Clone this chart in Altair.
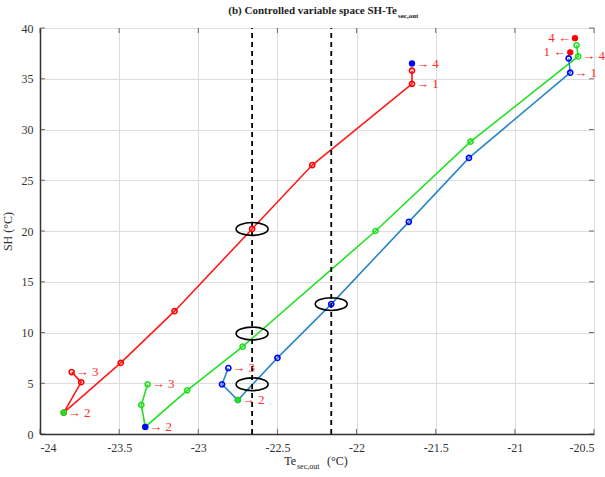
import altair as alt
import pandas as pd

# ---------------- data ----------------
series_names = ["red", "green", "blue"]

red_x = [-23.80, -23.74, -23.85, -23.49, -23.15, -22.66, -22.28, -21.65, -21.65]
red_y = [6.1, 5.1, 2.1, 7.0, 12.1, 20.2, 26.5, 34.5, 35.8]

green_x = [-23.32, -23.36, -23.335, -23.07, -22.72, -21.88, -21.28, -20.60, -20.61]
green_y = [4.9, 2.86, 0.7, 4.3, 8.6, 20.0, 28.8, 37.2, 38.3]

blue_x = [-22.81, -22.85, -22.75, -22.50, -22.16, -21.67, -21.29, -20.65, -20.66]
blue_y = [6.5, 4.9, 3.35, 7.5, 12.8, 20.9, 27.2, 35.6, 37.0]

filled_x = [-23.85, -23.335, -22.75, -21.65, -20.62, -20.65]
filled_y = [2.1, 0.7, 3.35, 36.5, 39.0, 37.6]
filled_c = ["green", "blue", "green", "blue", "red", "red"]

lab_r_x = [-23.85, -23.80, -21.65, -21.65, -23.335, -23.32, -20.60, -22.75, -22.81, -20.65]
lab_r_y = [2.1, 6.1, 34.5, 36.5, 0.7, 4.9, 37.2, 3.35, 6.5, 35.6]
lab_r_t = ["→ 2", "→ 3", "→ 1", "→ 4", "→ 2", "→ 3", "→ 4", "→ 2", "→ 3", "→ 1"]

lab_l_x = [-20.62, -20.65]
lab_l_y = [39.0, 37.6]
lab_l_t = ["4 ←", "1 ←"]

ell_x = [-22.66, -22.66, -22.66, -22.16]
ell_y = [20.2, 9.9, 4.9, 12.8]

vline_x = [-22.66, -22.16]

x_ticks = [-24, -23.5, -23, -22.5, -22, -21.5, -21, -20.5]
y_ticks = [0, 5, 10, 15, 20, 25, 30, 35, 40]

# ---------------- tables ----------------
rows = []
for name, xs_, ys_ in zip(series_names, [red_x, green_x, blue_x], [red_y, green_y, blue_y]):
    for i, (xv, yv) in enumerate(zip(xs_, ys_)):
        rows.append({"series": name, "order": i, "x": xv, "y": yv})
lines_df = pd.DataFrame(rows)
filled_df = pd.DataFrame({"x": filled_x, "y": filled_y, "c": filled_c})
labr_df = pd.DataFrame({"x": lab_r_x, "y": lab_r_y, "t": lab_r_t})
labl_df = pd.DataFrame({"x": lab_l_x, "y": lab_l_y, "t": lab_l_t})
ell_df = pd.DataFrame({"x": ell_x, "y": ell_y})
vl_df = pd.DataFrame({"x": vline_x, "y0": [0] * len(vline_x), "y1": [40] * len(vline_x)})
xt_df = pd.DataFrame({"v": x_ticks})
yt_df = pd.DataFrame({"v": y_ticks})

W, H = 554, 406
SERIF = "Liberation Serif"

xs = alt.Scale(domain=[-24, -20.5], nice=False, zero=False)
ys = alt.Scale(domain=[0, 40], nice=False, zero=False)

common_axis = dict(grid=True, tickSize=0, labelExpr="'' + datum.value",
                   labelFont=SERIF, labelFontSize=12, labelColor="#333333",
                   gridColor="#dddddd", gridWidth=1, domainColor="#333333", domainWidth=1.5)
x_axis = alt.Axis(values=x_ticks, title=None, labelPadding=8, **common_axis)
y_axis = alt.Axis(values=y_ticks, title="SH (°C)", labelPadding=7, titlePadding=7,
                  titleFont=SERIF, titleFontSize=12, titleFontWeight="normal",
                  titleColor="#333333", **common_axis)


def X(f="x"):
    return alt.X(f + ":Q", scale=xs, axis=x_axis)


def Y(f="y"):
    return alt.Y(f + ":Q", scale=ys, axis=y_axis)


line_colors = alt.Scale(domain=series_names, range=["#ff1a1a", "#22e022", "#2a86c6"])
mark_colors = alt.Scale(domain=series_names, range=["#ff0000", "#1ee01e", "#0000ff"])

base = alt.Chart(lines_df).mark_line(strokeWidth=1.6).encode(
    x=X(), y=Y(),
    color=alt.Color("series:N", scale=line_colors, legend=None),
    detail="series:N",
    order="order:Q",
)

vlines = alt.Chart(vl_df).mark_rule(color="black", strokeWidth=1.8, strokeDash=[5, 4]).encode(
    x=X(), y=Y("y0"), y2="y1")

open_pts = alt.Chart(lines_df).mark_point(shape="circle", filled=False, size=26, strokeWidth=1.6, opacity=1).encode(
    x=X(), y=Y(), color=alt.Color("series:N", scale=mark_colors, legend=None))

filled_pts = alt.Chart(filled_df).mark_point(shape="circle", filled=True, size=40, opacity=1).encode(
    x=X(), y=Y(), color=alt.Color("c:N", scale=mark_colors, legend=None))

ellipses = alt.Chart(ell_df).mark_point(
    shape="M-1,0A1,0.4,0,1,0,1,0A1,0.4,0,1,0,-1,0Z", size=1024, filled=False,
    stroke="black", strokeWidth=1.6, opacity=1).encode(x=X(), y=Y())

labr = alt.Chart(labr_df).mark_text(align="left", baseline="middle", dx=4, font=SERIF, fontSize=13,
                                   color="#ff2a2a").encode(x=X(), y=Y(), text="t:N")
labl = alt.Chart(labl_df).mark_text(align="right", baseline="middle", dx=-4, font=SERIF, fontSize=13,
                                   color="#ff2a2a").encode(x=X(), y=Y(), text="t:N")

# inward ticks on all four sides
tick_style = dict(color="#333333", thickness=1, size=5)
xt_bottom = alt.Chart(xt_df).mark_tick(**tick_style).encode(x=X("v"), y=alt.value(H - 2.5))
xt_top = alt.Chart(xt_df).mark_tick(**tick_style).encode(x=X("v"), y=alt.value(2.5))
yt_left = alt.Chart(yt_df).mark_tick(**tick_style).encode(y=Y("v"), x=alt.value(2.5))
yt_right = alt.Chart(yt_df).mark_tick(**tick_style).encode(y=Y("v"), x=alt.value(W - 2.5))


# title and x-axis title with subscripts
def txt(s, x, y, size, bold=False, align="left"):
    return alt.Chart(pd.DataFrame({"t": [s]})).mark_text(
        align=align, baseline="alphabetic", font=SERIF, fontSize=size,
        fontWeight="bold" if bold else "normal", color="#222222").encode(
        text="t:N", x=alt.value(x), y=alt.value(y))


title_main = txt("(b) Controlled variable space SH-Te", 357, -14, 11, bold=True, align="right")
title_sub = txt("sec,out", 358, -10, 7, bold=True)
xt_main = txt("Te", 256, 437, 12, align="right")
xt_sub = txt("sec,out", 257, 441, 8)
xt_unit = txt("(°C)", 287, 437, 12)

chart = alt.layer(
    base, vlines, open_pts, filled_pts, ellipses, labr, labl,
    xt_bottom, xt_top, yt_left, yt_right,
    title_main, title_sub, xt_main, xt_sub, xt_unit,
).resolve_scale(color="independent").properties(
    width=W, height=H,
    autosize=alt.AutoSizeParams(type="none"),
    padding={"left": 40, "top": 28, "right": 11, "bottom": 43},
).configure_view(stroke="#333333", strokeWidth=1.5).configure(background="white")

chart.save("out.html", embed_options={"renderer": "svg", "actions": False})
